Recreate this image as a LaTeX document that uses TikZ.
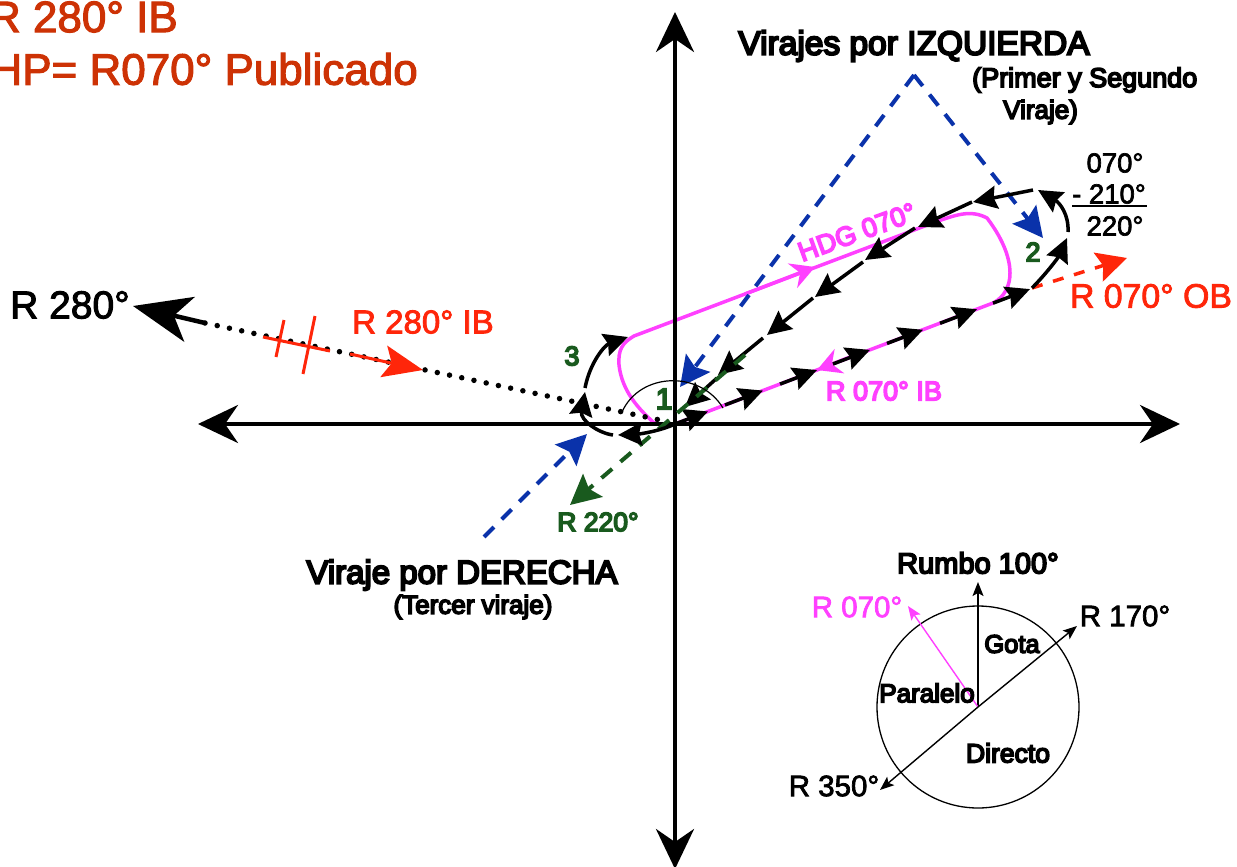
\documentclass[tikz,border=0pt]{standalone}
\usepackage{fontspec}
\setmainfont[FakeBold=2.5]{Liberation Sans}
\newfontfamily\heavyfont[FakeBold=6]{Liberation Sans}
\usetikzlibrary{arrows.meta}

\definecolor{hpred}{RGB}{205,50,5}
\definecolor{fixred}{RGB}{255,38,10}
\definecolor{hdgpink}{RGB}{255,64,255}
\definecolor{turnblue}{RGB}{10,50,170}
\definecolor{turngreen}{RGB}{25,90,30}

\tikzset{
    txt/.style={inner sep=0pt, font=\fontsize{#1}{#1}\selectfont},
    fat/.style={inner sep=0pt, font=\fontsize{#1}{#1}\selectfont\heavyfont},
    axis/.style={line width=4pt, -{Stealth[length=40pt,width=38pt,inset=13pt]}},
    leg/.style={line width=3.5pt, -{Stealth[length=24pt,width=23pt,inset=3pt]}},
    hint/.style={line width=4pt, dash pattern=on 14pt off 11pt, -{Stealth[length=30pt,width=30pt,inset=5pt]}},
    track/.style={hdgpink, line width=3.5pt},
    thin/.style={line width=1.4pt, -{Stealth[length=14pt,width=11pt,inset=3pt]}}
}

\begin{document}
\begin{tikzpicture}[x=1pt,y=-1pt]
    \useasboundingbox (0,0) rectangle (1237,867);
    \clip (0,0) rectangle (1237,867);

    \coordinate (o) at (675,424);
    \coordinate (west) at (198,424);
    \coordinate (east) at (1180,424);
    \coordinate (north) at (675,12);
    \coordinate (south) at (675,869);
    \coordinate (apex) at (914,75);
    \coordinate (c) at (978,707);

    % racetrack
    \draw[track] (o) .. controls (668,427) and (660,426) .. (653,422)
        .. controls (640,410) and (622,392) .. (619,365)
        .. controls (618,350) and (622,343) .. (634,336) -- (930,224)
        .. controls (955,215) and (970,209) .. (987,218)
        .. controls (1000,235) and (1010,255) .. (1010,273)
        .. controls (1010,285) and (1005,297) .. (993,303) -- cycle;
    \coordinate (h1) at (745,294);
    \coordinate (h2) at (815,267);
    \coordinate (i1) at (850,357);
    \coordinate (i2) at (817,370);
    \draw[track, -{Stealth[length=24pt,width=26pt,inset=8pt]}] (h1) -- (h2);
    \draw[track, -{Stealth[length=24pt,width=26pt,inset=8pt]}] (i1) -- (i2);

    \draw[axis] (o) -- (west);
    \draw[axis] (o) -- (east);
    \draw[axis] (o) -- (north);
    \draw[axis] (o) -- (south);

    % radial 280
    \coordinate (r1) at (205,323);
    \coordinate (r2) at (133,306);
    \coordinate (r3) at (660,420);
    \coordinate (f1) at (263,337);
    \coordinate (f2) at (330,351);
    \coordinate (f3) at (350,354);
    \coordinate (f4) at (423,370);
    \coordinate (t1) at (284,320);
    \coordinate (t2) at (276,357);
    \coordinate (t3) at (315,316);
    \coordinate (t4) at (303,374);
    \draw[line width=5.5pt, line cap=round, dash pattern=on 0pt off 12.5pt] (r1) -- (r3);
    \draw[line width=4.5pt, -{Stealth[length=58pt,width=46pt,inset=16pt]}] (r1) -- (r2);
    \draw[fixred, line width=3pt] (f1) -- (f2);
    \draw[fixred, line width=3pt] (t1) -- (t2);
    \draw[fixred, line width=3pt] (t3) -- (t4);
    \draw[fixred, line width=3pt, -{Stealth[length=40pt,width=32pt,inset=8pt]}] (f3) -- (f4);

    % helpers
    \coordinate (g1) at (745,355);
    \coordinate (g2) at (570,505);
    \coordinate (b1) at (484,537);
    \coordinate (b2) at (587,434);
    \coordinate (b3) at (680,387);
    \coordinate (b4) at (1043,238);
    \coordinate (q1) at (1032,288);
    \coordinate (q2) at (1127,258);
    \draw[hint, turnblue] (b1) -- (b2);
    \draw[hint, turnblue] (apex) -- (b3);
    \draw[hint, turnblue] (apex) -- (b4);
    \draw[hint, fixred, line width=3.5pt, dash pattern=on 11pt off 11pt] (q1) -- (q2);

    % inbound leg
    \foreach \a/\b in {677/708,725/763,780/817,833/870,887/923,940/977,993/1030} {
        \coordinate (s) at (\a,{424-.38*(\a-675)});
        \coordinate (e) at (\b,{424-.38*(\b-675)});
        \draw[leg] (s) -- (e);
    }
    % outbound leg
    \foreach \ax/\ay/\bx/\by in {1033/190/973/202, 972/202/918/227, 915/228/865/260, 863/262/815/297, 813/298/767/335, 763/338/718/375, 717/378/685/407} {
        \coordinate (s) at (\ax,\ay);
        \coordinate (e) at (\bx,\by);
        \draw[leg] (s) -- (e);
    }
    \draw[hint, turngreen] (g1) -- (g2);
    % turns
    \coordinate (k1) at (1032,288);
    \coordinate (k2) at (1067,238);
    \coordinate (k3) at (1068,232);
    \coordinate (k4) at (1038,190);
    \coordinate (k5) at (675,424);
    \coordinate (k6) at (618,435);
    \coordinate (k7) at (613,435);
    \coordinate (k8) at (585,392);
    \coordinate (k9) at (585,388);
    \coordinate (k10) at (628,337);
    \draw[leg] (k1) .. controls (1045,275) and (1058,258) .. (k2);
    \draw[leg] (k3) .. controls (1069,215) and (1060,203) .. (k4);
    \draw[leg] (k5) .. controls (660,431) and (640,434) .. (k6);
    \draw[leg] (k7) .. controls (598,433) and (580,420) .. (k8);
    \draw[leg] (k9) .. controls (590,362) and (605,345) .. (k10);

    % angle
    \coordinate (a1) at (622,412);
    \coordinate (a2) at (723,408);
    \draw[line width=1.2pt] (a1) .. controls (640,372) and (700,370) .. (a2);

    % sum
    \coordinate (u1) at (1072,206);
    \coordinate (u2) at (1147,206);
    \draw[line width=2pt] (u1) -- (u2);

    % entry sectors
    \draw[line width=1.3pt] (c) circle (101);
    \coordinate (m1) at (978,582);
    \coordinate (m2) at (908,606);
    \coordinate (m3) at (1077,626);
    \coordinate (m4) at (880,790);
    \draw[thin] (c) -- (m1);
    \draw[thin, hdgpink] (c) -- (m2);
    \draw[thin] (c) -- (m3);
    \draw[thin] (c) -- (m4);

    \node[txt=44, text=hpred, anchor=east] (hp1) at (178,17) {R 280° IB};
    \node[txt=44, text=hpred, anchor=east] (hp2) at (418,69) {HP= R070° Publicado};
    \node[txt=39] (r280) at (70,305) {R 280°};
    \node[txt=33, text=fixred] (r280ib) at (423,322) {R 280° IB};
    \node[fat=33.5] (izq) at (914,46) {Virajes por IZQUIERDA};
    \node[fat=27, anchor=west] (izq2) at (972,80) {(Primer y Segundo};
    \node[fat=26, anchor=west] (izq3) at (1003,112) {Viraje)};
    \node[txt=27.5] (s1) at (1115,163) {070°};
    \node[txt=27.5] (s2) at (1109,194) {- 210°};
    \node[txt=27.5] (s3) at (1115,226) {220°};
    \node[fat=27, text=hdgpink, rotate=20] (hdg) at (857,232) {HDG 070°};
    \node[txt=33.8, text=fixred] (ob) at (1151,296) {R 070° OB};
    \node[fat=27, text=hdgpink] (ib) at (884,391) {R 070° IB};
    \node[fat=26.5, text=turngreen] (r220) at (598,522) {R 220°};
    \node[fat=33] (der) at (462,575) {Viraje por DERECHA};
    \node[fat=26] (der2) at (473,607) {(Tercer viraje)};
    \node[fat=30, text=turngreen] (n1) at (664,399) {1};
    \node[fat=27, text=turngreen] (n2) at (1033,252) {2};
    \node[fat=27, text=turngreen] (n3) at (572,356) {3};
    \node[fat=29] (rumbo) at (978,563) {Rumbo 100°};
    \node[txt=29.5, text=hdgpink] (r070) at (857,607) {R 070°};
    \node[txt=29.5] (r170) at (1125,616) {R 170°};
    \node[txt=29.5] (r350) at (834,786) {R 350°};
    \node[fat=25.5] (gota) at (1012,644) {Gota};
    \node[fat=26] (par) at (927,693) {Paralelo};
    \node[fat=26.5] (dir) at (1008,753) {Directo};
\end{tikzpicture}
\end{document}
